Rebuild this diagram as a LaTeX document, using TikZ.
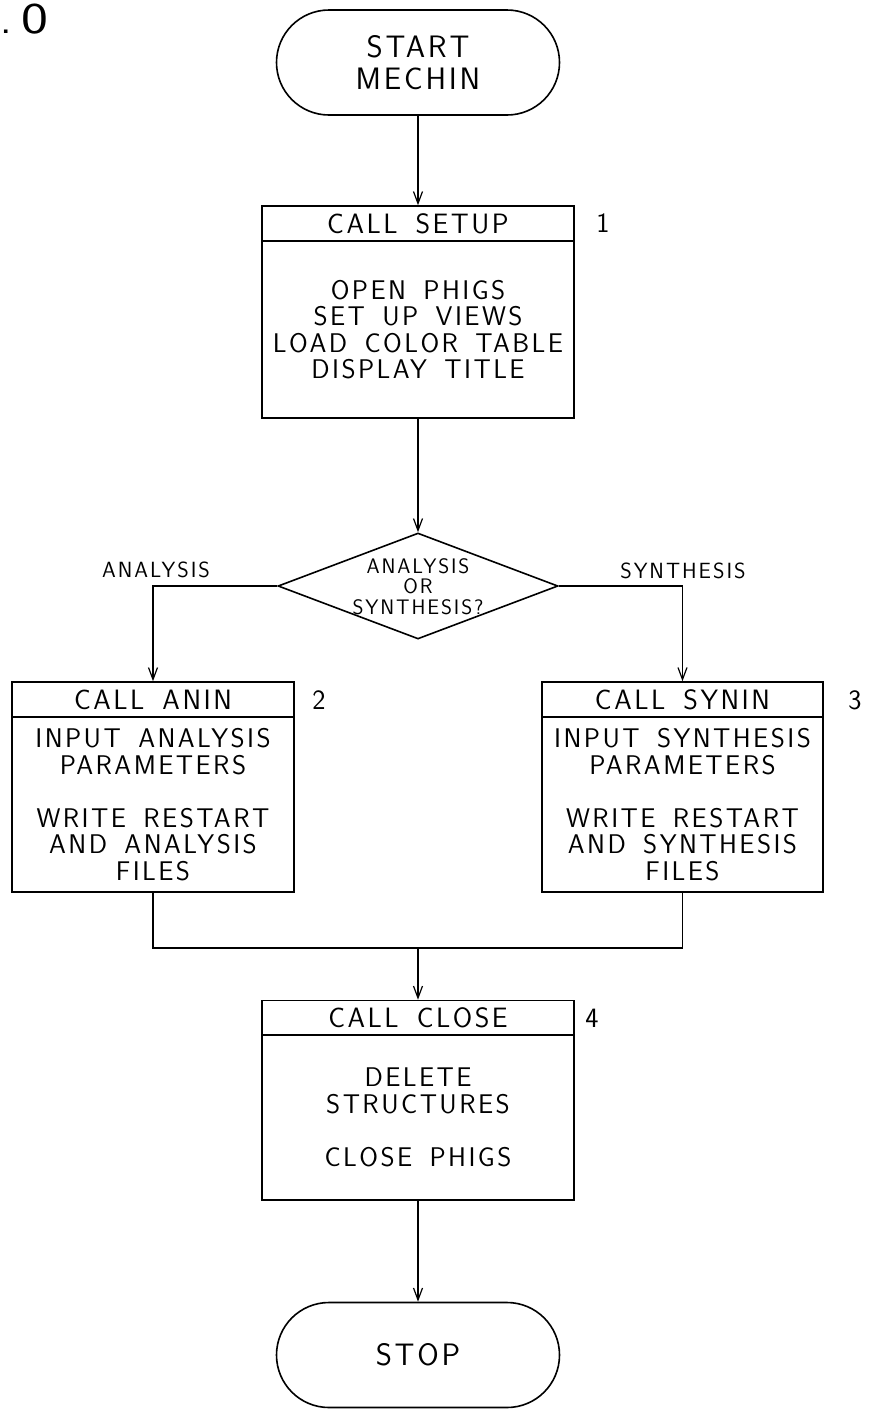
\documentclass[tikz,border=0pt]{standalone}
\usepackage{fontspec}
\setsansfont{Latin Modern Sans}[LetterSpace=9, WordSpace=1.6]
\usetikzlibrary{shapes.misc,shapes.geometric,arrows.meta}
\newcommand\setfs[2]{\fontsize{#1}{#2}\selectfont}
\begin{document}
\begin{tikzpicture}[
  x=1pt, y=-1pt,
  line width=1.6pt,
  arr/.style={-{Straight Barb[length=12pt,width=9pt,line width=1.2pt]}},
  term/.style={draw, rounded rectangle, minimum width=283pt, minimum height=105pt,
    inner sep=0pt, align=center, font=\sffamily\setfs{31}{32}},
  hdr/.style={draw, rectangle, minimum height=35pt, inner sep=0pt,
    font=\sffamily\setfs{28}{28}},
  bdy/.style={draw, rectangle, inner sep=0pt, align=center,
    font=\sffamily\setfs{27}{26.5}},
  dec/.style={draw, diamond, minimum width=280pt, minimum height=106pt, inner sep=0pt},
  dtext/.style={align=center, inner sep=0pt, font=\sffamily\setfs{21}{20.5}},
  lbl/.style={inner sep=0pt, font=\sffamily\setfs{22}{22}},
  num/.style={inner sep=0pt, font=\sffamily\setfs{28}{28}},
]
\useasboundingbox (0,0) rectangle (868,1409);

% figure number, cut at the page edge
\node[inner sep=0pt, anchor=east, font=\sffamily\setfs{44}{44}] (fig) at (49,19)
  {\llap{.\kern9pt}\scalebox{1.3}[1]{0}};

% start
\node[term] (start) at (418,62.5) {START\\MECHIN};

% block 1
\node[hdr, minimum width=312pt] (h1) at (418,223.5) {CALL SETUP};
\node[bdy, minimum width=312pt, minimum height=177pt] (b1) at (418,329.5)
  {OPEN PHIGS\\SET UP VIEWS\\LOAD COLOR TABLE\\DISPLAY TITLE};
\node[num] (n1) at (603,223) {1};

% decision
\node[dec] (dia) at (418,586) {};
\node[dtext] (q) at (418,586.5) {ANALYSIS\\OR\\SYNTHESIS?};
\node[lbl] (la) at (156,570) {ANALYSIS};
\node[lbl] (ls) at (683,571) {SYNTHESIS};

% block 2
\node[hdr, minimum width=282pt] (h2) at (153,699.5) {CALL ANIN};
\node[bdy, minimum width=282pt, minimum height=175pt] (b2) at (153,804.5)
  {INPUT ANALYSIS\\PARAMETERS\\[26.5pt]WRITE RESTART\\AND ANALYSIS\\FILES};
\node[num] (n2) at (319,700) {2};

% block 3
\node[hdr, minimum width=281pt] (h3) at (682.5,699.5) {CALL SYNIN};
\node[bdy, minimum width=281pt, minimum height=175pt] (b3) at (682.5,804.5)
  {INPUT SYNTHESIS\\PARAMETERS\\[26.5pt]WRITE RESTART\\AND SYNTHESIS\\FILES};
\node[num] (n3) at (855,700) {3};

% block 4
\node[hdr, minimum width=312pt] (h4) at (418,1018) {CALL CLOSE};
\node[bdy, minimum width=312pt, minimum height=165pt] (b4) at (418,1117.5)
  {DELETE\\STRUCTURES\\[26.5pt]CLOSE PHIGS};
\node[num] (n4) at (592,1018) {4};

% stop
\node[term] (stop) at (418,1355) {STOP};

% connectors
\coordinate (m) at (418,948);
\draw[arr] (start) -- (h1);
\draw[arr] (b1) -- (dia);
\draw[arr] (dia.west) -| (h2.north);
\draw[arr] (dia.east) -| (h3.north);
\draw (b2.south) |- (m) -| (b3.south);
\draw[arr] (m) -- (h4.north);
\draw[arr] (b4) -- (stop);
\end{tikzpicture}
\end{document}
